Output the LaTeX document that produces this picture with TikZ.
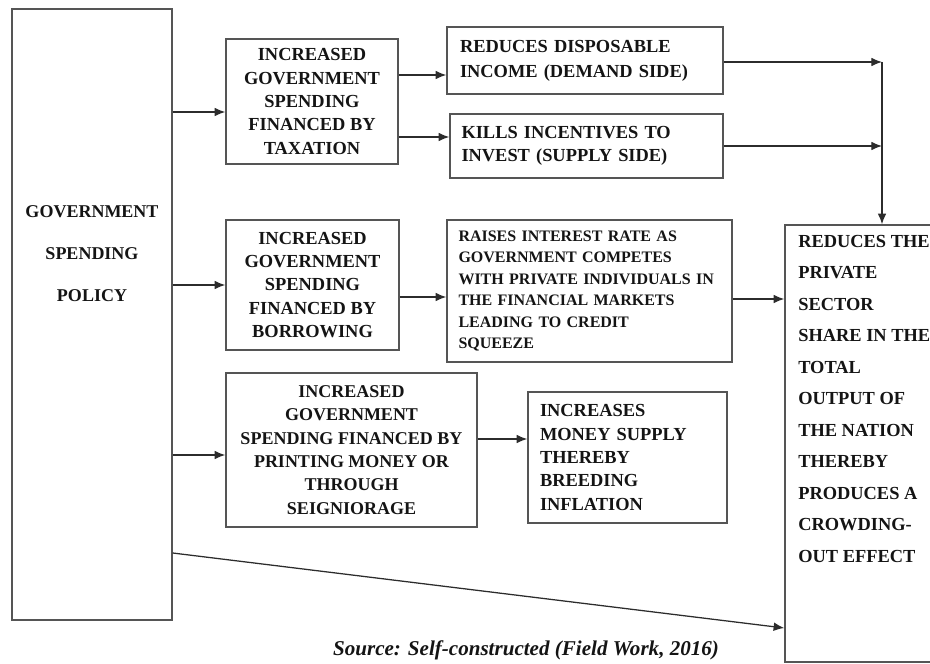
\documentclass[tikz,border=0pt]{standalone}
\usepackage{fontspec}
\setmainfont{Liberation Serif}[BoldFont={Liberation Serif Bold},BoldItalicFont={Liberation Serif Bold Italic}]
\usetikzlibrary{arrows.meta}
\definecolor{ink}{HTML}{141414}
\definecolor{edge}{HTML}{555555}
\begin{document}
\begin{tikzpicture}[x=0.75pt,y=-0.75pt,
  bx/.style n args={2}{draw=edge, line width=1.1pt, inner sep=0pt,
    minimum width=#1*0.75pt, minimum height=#2*0.75pt, text=ink,
    font=\fontsize{13.8}{17.5}\selectfont\bfseries},
  cbox/.style={align=center},
  txt/.style={text=ink, inner sep=0pt},
  arr/.style={draw=ink!90, line width=0.95pt, -{Latex[length=8pt,width=6.5pt]}},
  ln/.style={draw=ink!90, line width=0.95pt}]
\useasboundingbox (0,0) rectangle (930,663);
% boxes
\node[bx={160}{611}] (gsp) at (92,314.5) {};
\node[txt, align=center, font=\fontsize{13.5}{31.5}\selectfont\bfseries] (gsptext) at (92,254)
  {GOVERNMENT\\SPENDING\\POLICY};
\node[bx={172}{125}, cbox] (b1) at (312,101.5)
  {INCREASED\\GOVERNMENT\\SPENDING\\FINANCED BY\\TAXATION};
\node[bx={173}{130}, cbox] (b2) at (312.5,285)
  {INCREASED\\GOVERNMENT\\SPENDING\\FINANCED BY\\BORROWING};
\node[bx={251}{154}, cbox, font=\fontsize{13.5}{17.5}\selectfont\bfseries] (b3) at (351.5,450)
  {INCREASED\\GOVERNMENT\\SPENDING FINANCED BY\\PRINTING MONEY OR\\THROUGH\\SEIGNIORAGE};
\node[bx={276}{67}, text width=250*0.75pt, align=left,
  font=\fontsize{13.8}{18.75}\selectfont\bfseries] (rd) at (585,60.5)
  {REDUCES DISPOSABLE\\INCOME (DEMAND SIDE)\\[-7pt]};
\node[bx={273}{64}, text width=250*0.75pt, align=left,
  font=\fontsize{13.8}{17.25}\selectfont\bfseries] (ki) at (586.5,146)
  {KILLS INCENTIVES TO\\INVEST (SUPPLY SIDE)};
\node[bx={285}{142}, text width=262*0.75pt, align=left,
  font=\fontsize{12}{16.1}\selectfont\bfseries] (ri) at (589.5,291)
  {RAISES INTEREST RATE AS\\GOVERNMENT COMPETES\\WITH PRIVATE INDIVIDUALS IN\\THE FINANCIAL MARKETS\\LEADING TO CREDIT\\SQUEEZE};
\node[bx={199}{131}, text width=175*0.75pt, align=left] (im) at (627.5,457.5)
  {INCREASES\\MONEY SUPPLY\\THEREBY\\BREEDING\\INFLATION};
\node[bx={160}{437}] (rp) at (865,443.5) {};
\node[txt, anchor=north west, align=left, font=\fontsize{13.8}{23.6}\selectfont\bfseries] (rptext) at (798,235)
  {REDUCES THE\\PRIVATE\\SECTOR\\SHARE IN THE\\TOTAL\\OUTPUT OF\\THE NATION\\THEREBY\\PRODUCES A\\CROWDING-\\OUT EFFECT};
% connectors
\draw[arr] (gsp.east |- 0,112) -- (b1.west |- 0,112);
\draw[arr] (gsp.east |- 0,285) -- (b2.west |- 0,285);
\draw[arr] (gsp.east |- 0,455) -- (b3.west |- 0,455);
\draw[arr] (gsp.east |- 0,553) -- (rp.west |- 0,628);
\draw[arr] (b1.east |- 0,75) -- (rd.west |- 0,75);
\draw[arr] (b1.east |- 0,137) -- (ki.west |- 0,137);
\draw[arr] (b2.east |- 0,297) -- (ri.west |- 0,297);
\draw[arr] (b3.east |- 0,439) -- (im.west |- 0,439);
\coordinate (j1) at (882,62);
\coordinate (j2) at (882,146);
\draw[arr] (rd.east |- j1) -- (j1);
\draw[arr] (ki.east |- j2) -- (j2);
\draw[arr] (j1) -- (j1 |- rp.north);
\draw[arr] (ri.east |- 0,299) -- (rp.west |- 0,299);
% source
\node[txt, font=\fontsize{15.8}{18}\selectfont\bfseries\itshape] (src) at (526,650)
  {Source: Self-constructed (Field Work, 2016)};
\end{tikzpicture}
\end{document}
